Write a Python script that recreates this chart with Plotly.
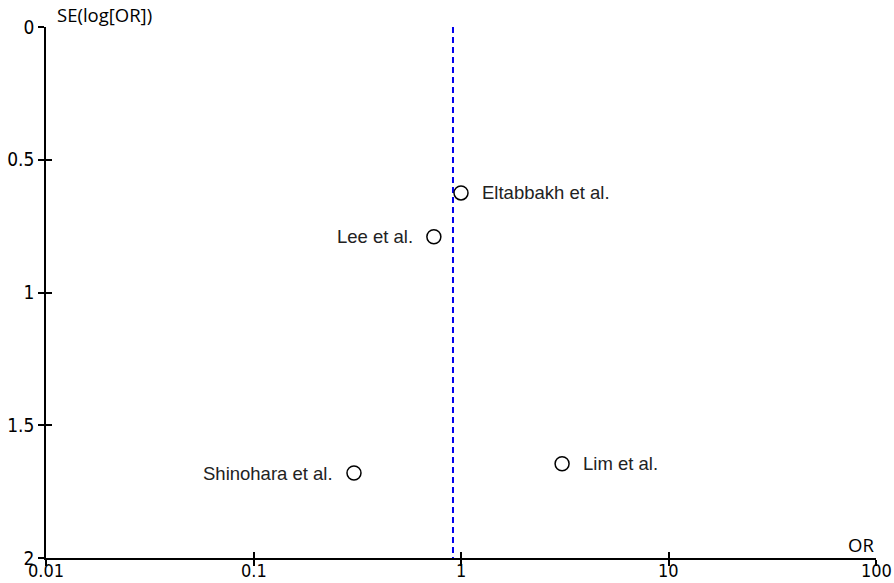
import numpy as np
import plotly.graph_objects as go

# Study estimates: odds ratio and standard error of log(OR)
studies = ["Eltabbakh et al.", "Lee et al.", "Shinohara et al.", "Lim et al."]
odds_ratio = [1.0, 0.74, 0.305, 3.07]
se_log_or = [0.625, 0.79, 1.68, 1.645]
label_side = ["right", "left", "left", "right"]

pooled_or = 0.915
x_ticks = [0.01, 0.1, 1, 10, 100]
x_tick_text = ["0.01", "0.1", "1", "10", "100"]
y_ticks = [0, 0.5, 1, 1.5, 2]
y_tick_text = ["0", "0.5", "1", "1.5", "2"]

W, H = 894, 583
M = dict(l=46, r=18, t=27, b=25)

fig = go.Figure()

# pooled estimate reference line
fig.add_trace(go.Scatter(
    x=[pooled_or, pooled_or], y=[0, 2], mode="lines",
    line=dict(color="#0000ee", width=2, dash="6px,4px"),
    hoverinfo="skip", showlegend=False,
))

# individual studies
fig.add_trace(go.Scatter(
    x=odds_ratio, y=se_log_or, mode="markers",
    marker=dict(symbol="circle-open", size=14, color="black", line=dict(width=1.5, color="black")),
    showlegend=False,
))

for name, orv, se, side in zip(studies, odds_ratio, se_log_or, label_side):
    fig.add_annotation(
        x=np.log10(orv), y=se, xref="x", yref="y", text=name, showarrow=False,
        xanchor="left" if side == "right" else "right",
        xshift=19 if side == "right" else -19,
        font=dict(family="Liberation Sans, Arial", size=18.5, color="#222222"),
    )

# x tick labels placed snugly under the axis line, flush with the bottom edge
x_tick_font = dict(family="DejaVu Sans Condensed, DejaVu Sans", size=18, color="black")
for val, txt in zip(x_ticks, x_tick_text):
    fig.add_annotation(
        x=np.log10(val), xref="x", y=-M["b"] / (H - M["t"] - M["b"]), yref="paper",
        text=txt, showarrow=False, xanchor="center", yanchor="bottom",
        font=x_tick_font,
    )

# axis titles
fig.add_annotation(x=0.011, y=1.0226, xref="paper", yref="paper", text="SE(log[OR])",
                   showarrow=False, xanchor="left", yanchor="middle",
                   font=dict(family="Open Sans", size=18.5, color="black"))
fig.add_annotation(x=1.0, y=0.026, xref="paper", yref="paper", text="OR",
                   showarrow=False, xanchor="right", yanchor="middle",
                   font=dict(family="Open Sans", size=18.5, color="black"))

tick_font = dict(family="DejaVu Sans Condensed, DejaVu Sans", size=19, color="black")
axis_common = dict(showgrid=False, zeroline=False, showline=True, linecolor="black",
                   linewidth=1.5, tickcolor="black", tickwidth=1.5, ticklen=6,
                   automargin=False)

fig.update_layout(
    width=W, height=H,
    margin=M,
    paper_bgcolor="white", plot_bgcolor="white",
    xaxis=dict(type="log", range=[-2, 2], tickvals=x_ticks, showticklabels=False,
               ticks="inside", **axis_common),
    yaxis=dict(range=[2, 0], tickvals=y_ticks, ticktext=y_tick_text,
               ticks="outside", tickfont=tick_font, **axis_common),
    # mirrored tick stubs so tick marks cross the axis lines
    xaxis2=dict(type="log", range=[-2, 2], tickvals=x_ticks, ticks="outside",
                showticklabels=False, overlaying="x", anchor="y", side="bottom",
                **axis_common),
    yaxis2=dict(range=[2, 0], tickvals=y_ticks, ticks="inside",
                showticklabels=False, overlaying="y", anchor="x", side="left",
                **axis_common),
)

fig.add_trace(go.Scatter(x=[1], y=[1], xaxis="x2", yaxis="y2", mode="markers",
                         marker=dict(opacity=0), hoverinfo="skip", showlegend=False))

fig.write_html("out.html")
